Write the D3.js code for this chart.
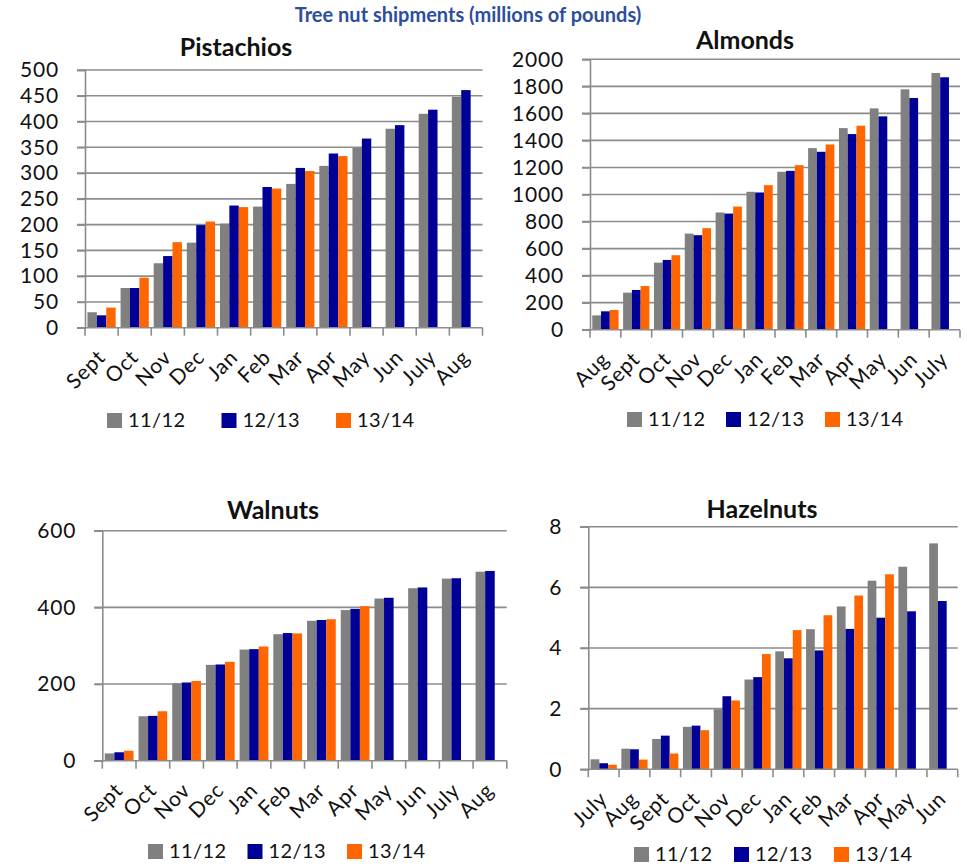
<!DOCTYPE html>
<html>
<head>
<meta charset="utf-8">
<script src="https://cdn.jsdelivr.net/npm/d3@7"></script>
<style>
  html, body { margin: 0; padding: 0; background: #fff; }
  svg { display: block; font-family: Lato, "Open Sans", sans-serif; }
</style>
</head>
<body>
<svg id="chart" width="967" height="868"></svg>
<script>
// Season labels shared by every panel
const seasons = ["11/12", "12/13", "13/14"];
const seasonColors = ["#808080", "#000096", "#FF6600"];

// Pistachios (season starts in September)
const pistachioMonths = ["Sept", "Oct", "Nov", "Dec", "Jan", "Feb", "Mar", "Apr", "May", "Jun", "July", "Aug"];
const pistachio1112 = [30, 77, 125, 165, 202, 235, 279, 314, 349, 386, 415, 448];
const pistachio1213 = [24, 77, 139, 199, 237, 273, 310, 338, 367, 393, 423, 461];
const pistachio1314 = [39, 97, 166, 206, 234, 270, 304, 333, null, null, null, null];
const pistachioTicks = [0, 50, 100, 150, 200, 250, 300, 350, 400, 450, 500];

// Almonds (season starts in August)
const almondMonths = ["Aug", "Sept", "Oct", "Nov", "Dec", "Jan", "Feb", "Mar", "Apr", "May", "Jun", "July"];
const almond1112 = [106, 274, 496, 711, 867, 1020, 1168, 1343, 1491, 1637, 1778, 1899];
const almond1213 = [136, 294, 516, 699, 859, 1015, 1175, 1316, 1447, 1578, 1714, 1867];
const almond1314 = [146, 323, 551, 751, 911, 1069, 1217, 1370, 1509, null, null, null];
const almondTicks = [0, 200, 400, 600, 800, 1000, 1200, 1400, 1600, 1800, 2000];

// Walnuts (season starts in September)
const walnutMonths = ["Sept", "Oct", "Nov", "Dec", "Jan", "Feb", "Mar", "Apr", "May", "Jun", "July", "Aug"];
const walnut1112 = [19, 116, 202, 250, 290, 330, 365, 393, 423, 450, 475, 493];
const walnut1213 = [22, 117, 204, 251, 291, 333, 367, 396, 425, 452, 476, 495];
const walnut1314 = [26, 129, 208, 258, 298, 332, 369, 403, null, null, null, null];
const walnutTicks = [0, 200, 400, 600];

// Hazelnuts (season starts in July)
const hazelnutMonths = ["July", "Aug", "Sept", "Oct", "Nov", "Dec", "Jan", "Feb", "Mar", "Apr", "May", "Jun"];
const hazelnut1112 = [0.33, 0.68, 1.0, 1.4, 1.98, 2.96, 3.89, 4.62, 5.37, 6.22, 6.68, 7.45];
const hazelnut1213 = [0.2, 0.66, 1.11, 1.44, 2.41, 3.04, 3.66, 3.92, 4.63, 5.0, 5.21, 5.55];
const hazelnut1314 = [0.15, 0.32, 0.52, 1.29, 2.27, 3.80, 4.59, 5.08, 5.73, 6.43, null, null];
const hazelnutTicks = [0, 2, 4, 6, 8];

const svg = d3.select("#chart");

svg.append("text")
  .attr("x", 468).attr("y", 22)
  .attr("text-anchor", "middle")
  .attr("font-size", 20).attr("font-weight", 700)
  .attr("fill", "#2C4E9C")
  .text("Tree nut shipments (millions of pounds)");

const panels = [
  { title: "Pistachios", months: pistachioMonths, series: [pistachio1112, pistachio1213, pistachio1314], ticks: pistachioTicks,
    x0: 85, x1: 482.5, y0: 327.7, y1: 70, titleX: 236, titleY: 56, legendX: 107, legendY: 427, legendGap: 114.5 },
  { title: "Almonds", months: almondMonths, series: [almond1112, almond1213, almond1314], ticks: almondTicks,
    x0: 590, x1: 960, y0: 329.7, y1: 59.3, titleX: 745, titleY: 49, legendX: 627, legendY: 426, legendGap: 99 },
  { title: "Walnuts", months: walnutMonths, series: [walnut1112, walnut1213, walnut1314], ticks: walnutTicks,
    x0: 102.3, x1: 506.8, y0: 760.7, y1: 530.7, titleX: 273, titleY: 519, legendX: 148, legendY: 858, legendGap: 99.5 },
  { title: "Hazelnuts", months: hazelnutMonths, series: [hazelnut1112, hazelnut1213, hazelnut1314], ticks: hazelnutTicks,
    x0: 588.3, x1: 957.7, y0: 769.3, y1: 526.7, titleX: 762, titleY: 518, legendX: 634, legendY: 861, legendGap: 100 }
];

const gridColor = "#8C8C8C";
const labelFont = { size: 21, spacing: 0.8 };

panels.forEach(p => {
  const g = svg.append("g");
  const x = d3.scaleBand().domain(p.months).range([p.x0, p.x1]).paddingInner(0).paddingOuter(0);
  const y = d3.scaleLinear().domain([0, d3.max(p.ticks)]).range([p.y0, p.y1]);
  const inner = d3.scaleBand().domain(d3.range(3)).range([0, x.bandwidth()]).paddingOuter(0.26).paddingInner(0);

  // Horizontal gridlines
  g.append("g").selectAll("line").data(p.ticks.filter(t => t > 0)).join("line")
    .attr("x1", p.x0 - 8).attr("x2", p.x1)
    .attr("y1", d => y(d)).attr("y2", d => y(d))
    .attr("stroke", gridColor).attr("stroke-width", 1.6);

  // Bars
  p.series.forEach((vals, si) => {
    g.append("g").selectAll("rect")
      .data(p.months.map((m, i) => ({ m, v: vals[i] })).filter(d => d.v != null))
      .join("rect")
      .attr("x", d => x(d.m) + inner(si))
      .attr("width", inner.bandwidth())
      .attr("y", d => y(d.v))
      .attr("height", d => y(0) - y(d.v))
      .attr("fill", seasonColors[si]);
  });

  // Y axis
  const yAxis = d3.axisLeft(y).tickValues(p.ticks).tickFormat(d3.format("d")).tickSize(8).tickPadding(18);
  const ya = g.append("g").attr("transform", `translate(${p.x0},0)`).call(yAxis);
  ya.select(".domain").attr("stroke", gridColor).attr("stroke-width", 1.6);
  ya.selectAll(".tick line").attr("stroke", gridColor).attr("stroke-width", 1.6);
  ya.selectAll(".tick text").attr("font-size", labelFont.size).attr("letter-spacing", labelFont.spacing)
    .attr("fill", "#111").attr("font-family", "Lato, sans-serif");

  // X axis: tick marks sit at category boundaries
  const xa = g.append("g").attr("transform", `translate(0,${p.y0})`);
  xa.append("line").attr("x1", p.x0 - 8).attr("x2", p.x1)
    .attr("stroke", gridColor).attr("stroke-width", 1.6);
  const bounds = p.months.map(m => x(m)).concat([p.x1]);
  xa.selectAll("line.bt").data(bounds).join("line").attr("class", "bt")
    .attr("x1", d => d).attr("x2", d => d).attr("y1", 0).attr("y2", 8)
    .attr("stroke", gridColor).attr("stroke-width", 1.6);
  xa.selectAll("text").data(p.months).join("text")
    .attr("transform", d => `translate(${x(d) + x.bandwidth() / 2 + 5},${31}) rotate(-45)`)
    .attr("text-anchor", "end")
    .attr("font-size", labelFont.size).attr("letter-spacing", labelFont.spacing).attr("fill", "#111")
    .text(d => d);

  // Title
  g.append("text").attr("x", p.titleX).attr("y", p.titleY)
    .attr("text-anchor", "middle").attr("font-size", 25).attr("font-weight", 700)
    .attr("fill", "#111").text(p.title);

  // Legend
  const lg = g.append("g").attr("transform", `translate(${p.legendX},${p.legendY})`);
  seasons.forEach((s, i) => {
    const item = lg.append("g").attr("transform", `translate(${i * p.legendGap},0)`);
    item.append("rect").attr("x", 0).attr("y", -14).attr("width", 15).attr("height", 15)
      .attr("fill", seasonColors[i]);
    item.append("text").attr("x", 21).attr("y", 0).attr("font-size", 20).attr("letter-spacing", 0.4)
      .attr("fill", "#111").text(s);
  });
});
</script>
</body>
</html>
